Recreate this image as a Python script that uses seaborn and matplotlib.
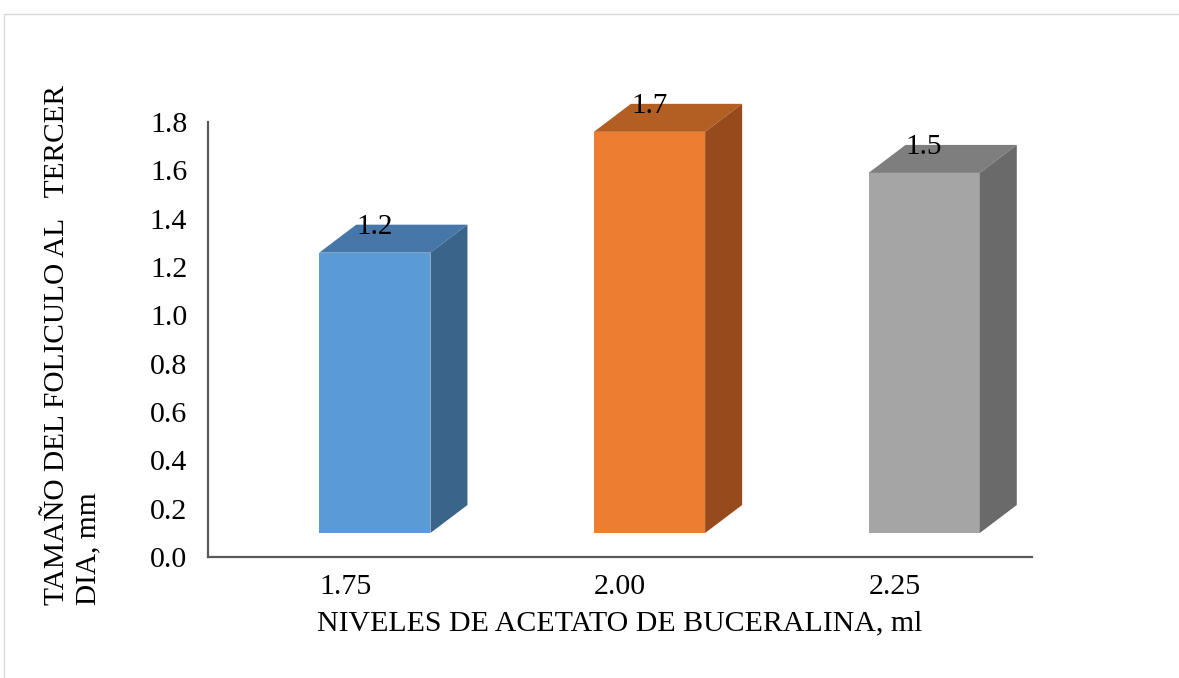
import numpy as np
import matplotlib
matplotlib.use('Agg')
import matplotlib.pyplot as plt
import matplotlib.transforms as mtransforms
from matplotlib.patches import Polygon, Rectangle
import seaborn as sns

# Data
niveles = ['1.75', '2.00', '2.25']
tamano = [1.16, 1.66, 1.49]
front_colors = ['#5B9BD5', '#ED7D31', '#A5A5A5']
top_colors = ['#4677A8', '#B35E22', '#7E7E7E']
side_colors = ['#3A6489', '#974B1C', '#6A6A6A']

sns.set_style('white')
plt.rcParams['font.family'] = ['Liberation Serif', 'DejaVu Serif']

fig = plt.figure(figsize=(11.79, 6.78), dpi=100)
W, H = 1179, 678
ax = fig.add_axes([208 / W, (H - 557) / H, (1032 - 208) / W, (557 - 122) / H])

sns.barplot(x=niveles, y=tamano, hue=niveles, palette=front_colors,
            width=0.405, legend=False, ax=ax, saturation=1)

ax.set_xlim(-0.5, 2.5)
ax.set_ylim(0, 1.8)
ax.set_yticks(np.arange(0, 1.81, 0.2))
ax.set_yticklabels([f'{v:.1f}' for v in np.arange(0, 1.81, 0.2)])

FS = 21.5

# pseudo 3D: shift front faces and add top / side faces
shift = mtransforms.ScaledTranslation(29.5 / 100, 24 / 100, fig.dpi_scale_trans)
trans = ax.transData + shift
dx = 37 / (824 / 3)     # depth in data units (x)
dy = 28 / (435 / 1.8)   # depth in data units (y)
for i, p in enumerate(ax.patches):
    p.set_transform(trans)
    p.set_edgecolor('none')
    p.set_clip_on(False)
    x0 = p.get_x()
    x1 = x0 + p.get_width()
    h = p.get_height()
    top = Polygon([(x0, h), (x1, h), (x1 + dx, h + dy), (x0 + dx, h + dy)],
                  closed=True, facecolor=top_colors[i], edgecolor='none',
                  transform=trans, clip_on=False)
    side = Polygon([(x1, 0), (x1 + dx, dy), (x1 + dx, h + dy), (x1, h)],
                   closed=True, facecolor=side_colors[i], edgecolor='none',
                   transform=trans, clip_on=False)
    ax.add_patch(top)
    ax.add_patch(side)
    ax.text(x0 + p.get_width() / 2, h + dy * 0.92, f'{tamano[i]:.1f}',
            ha='center', va='center', fontsize=FS - 0.5, transform=trans,
            clip_on=False, color='black')

for s in ['top', 'right']:
    ax.spines[s].set_visible(False)
for s in ['left', 'bottom']:
    ax.spines[s].set_color('#595959')
    ax.spines[s].set_linewidth(1.6)
ax.tick_params(axis='both', length=0, labelsize=FS, colors='black')
ax.tick_params(axis='y', pad=15)
ax.tick_params(axis='x', pad=12)

ax.set_xlabel('NIVELES DE ACETATO DE BUCERALINA, ml', fontsize=FS,
              labelpad=8, color='black')
ax.set_ylabel('TAMAÑO DEL FOLICULO AL   TERCER\nDIA, mm', fontsize=FS - 0.3,
              multialignment='left', color='black', linespacing=1.3)
ax.yaxis.set_label_coords(-0.129, 0.487)

# light outer frame
fig.patches.append(Rectangle((4 / W, -0.1), 1.2, 1 - 14 / H + 0.1,
                             transform=fig.transFigure, fill=False,
                             edgecolor='#D9D9D9', linewidth=1))

fig.savefig('out.png', dpi=100)
